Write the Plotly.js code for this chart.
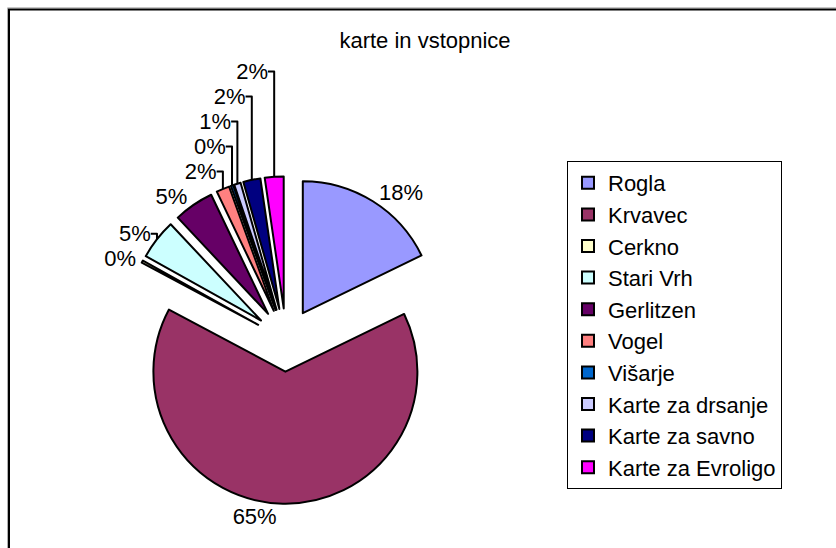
<!DOCTYPE html>
<html>
<head>
<meta charset="utf-8">
<script src="https://cdn.plot.ly/plotly-3.0.1.min.js"></script>
<style>
html,body{margin:0;padding:0;background:#fff;}
#chart{width:836px;height:548px;}
</style>
</head>
<body>
<div id="chart"></div>
<script>
const labels = ["Rogla","Krvavec","Cerkno","Stari Vrh","Gerlitzen","Vogel","Višarje","Karte za drsanje","Karte za savno","Karte za Evroligo"];
const values = [17.8, 65.0, 0.3, 4.9, 4.9, 1.6, 0.3, 0.8, 2.1, 2.3];
const colors = ["#9999FF","#993366","#FFFFCC","#CCFFFF","#660066","#FF8080","#0066CC","#CCCCFF","#000080","#FF00FF"];
const titleText = "karte in vstopnice";

const W = 836, H = 548;
const cx = 286, cy = 340, R = 132, pull = 0.24;
const side = 2 * R * (1 + pull);
const FONT = "Liberation Sans, Arial, sans-serif";

const trace = {
  type: "pie",
  labels: labels,
  values: values,
  marker: {colors: colors, line: {color: "#000", width: 2}},
  sort: false,
  direction: "clockwise",
  rotation: 0,
  pull: labels.map(() => pull),
  textposition: "outside",
  texttemplate: "%{percent:.0%}",
  textfont: {family: FONT, size: 22, color: "#000"},
  outsidetextfont: {family: FONT, size: 22, color: "#000"},
  domain: {
    x: [(cx - side / 2) / W, (cx + side / 2) / W],
    y: [1 - (cy + side / 2) / H, 1 - (cy - side / 2) / H]
  },
  hoverinfo: "label+percent"
};

const layout = {
  width: W, height: H,
  margin: {l: 0, r: 0, t: 0, b: 0},
  paper_bgcolor: "#fff",
  font: {family: FONT, color: "#000"},
  title: {
    text: titleText,
    font: {family: FONT, size: 22, color: "#000"},
    x: 425 / W, xanchor: "center",
    y: 1 - 40 / H, yanchor: "middle", yref: "container"
  },
  showlegend: true,
  legend: {
    x: 567 / W, xanchor: "left",
    y: 1 - 325 / H, yanchor: "middle",
    bordercolor: "#000", borderwidth: 1,
    bgcolor: "#fff",
    font: {family: FONT, size: 22, color: "#000"},
    traceorder: "normal"
  },
  shapes: [
    {
      type: "rect", xref: "paper", yref: "paper",
      x0: 7.5 / W, x1: 1.05, y0: -0.05, y1: 1 - 7.8 / H,
      line: {color: "#b0b0b0", width: 1}, fillcolor: "rgba(0,0,0,0)", layer: "below"
    },
    {
      type: "rect", xref: "paper", yref: "paper",
      x0: 9 / W, x1: 1.05, y0: -0.05, y1: 1 - 9.5 / H,
      line: {color: "#000", width: 2}, fillcolor: "rgba(0,0,0,0)", layer: "below"
    }
  ]
};

Plotly.newPlot("chart", [trace], layout, {displayModeBar: false, staticPlot: true});
</script>
</body>
</html>
